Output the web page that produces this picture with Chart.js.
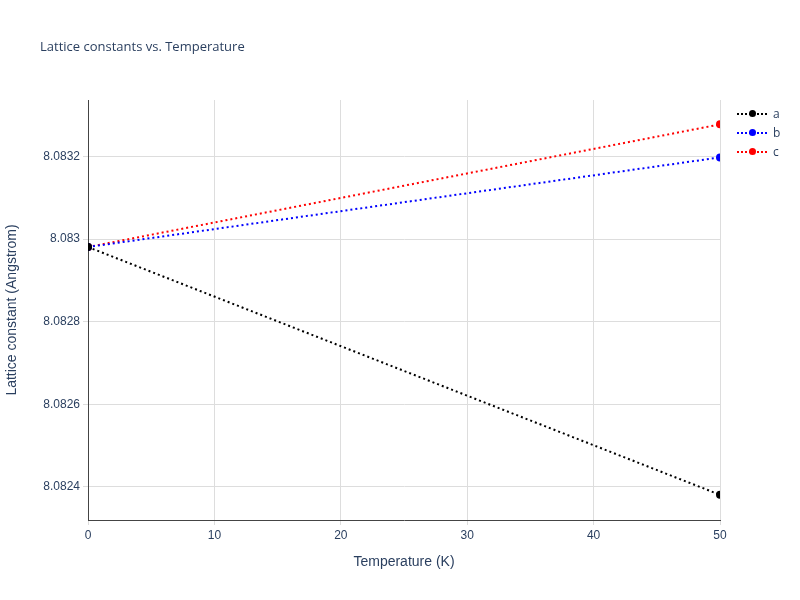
<!DOCTYPE html>
<html>
<head>
<meta charset="utf-8">
<script src="https://cdn.jsdelivr.net/npm/chart.js@4"></script>
<style>
  body { margin: 0; background: #fff; font-family: "Open Sans", sans-serif; }
  #wrap { position: relative; width: 800px; height: 600px; }
  #title { position: absolute; left: 40px; top: 37px; font-size: 13px; color: #2a3f5f; }
  #legend { position: absolute; left: 737px; top: 104px; font-size: 12px; color: #2a3f5f; }
  .item { height: 19px; display: flex; align-items: center; }
  .sym { position: relative; width: 30px; height: 10px; margin-right: 6px; }
  .sym .ln { position: absolute; top: 4px; left: 0; width: 30px; border-top: 2px dotted; }
  .sym .dot { position: absolute; top: 1px; left: 12px; width: 7px; height: 7px; border-radius: 50%; }
</style>
</head>
<body>
<div id="wrap">
  <canvas id="chart" width="800" height="600"></canvas>
  <div id="title">Lattice constants vs. Temperature</div>
  <div id="legend"></div>
</div>
<script>
const temps = [0, 50];
const seriesNames = ["a", "b", "c"];
const seriesColors = ["#000000", "#0000ff", "#ff0000"];
const aValues = [8.082981, 8.082381];
const bValues = [8.082981, 8.083198];
const cValues = [8.082981, 8.083278];
const yTicks = [8.0824, 8.0826, 8.0828, 8.083, 8.0832];
const xTicks = [0, 10, 20, 30, 40, 50];

const allValues = [aValues, bValues, cValues];

// 凡例をHTMLで作る
const legend = document.getElementById("legend");
seriesNames.forEach((name, i) => {
  const row = document.createElement("div");
  row.className = "item";
  row.innerHTML = `<span class="sym"><span class="ln" style="border-color:${seriesColors[i]}"></span><span class="dot" style="background:${seriesColors[i]}"></span></span>${name}`;
  legend.appendChild(row);
});

const datasets = seriesNames.map((name, i) => ({
  label: name,
  data: temps.map((t, j) => ({ x: t, y: allValues[i][j] })),
  borderColor: seriesColors[i],
  backgroundColor: seriesColors[i],
  borderWidth: 2,
  borderDash: [2, 3],
  pointRadius: 3,
  pointHoverRadius: 3,
}));

new Chart(document.getElementById("chart").getContext("2d"), {
  type: "line",
  data: { datasets: datasets },
  options: {
    responsive: false,
    animation: false,
    layout: { padding: { left: 0, right: 80, top: 100, bottom: 25 } },
    plugins: { legend: { display: false }, tooltip: { enabled: false } },
    scales: {
      x: {
        type: "linear",
        min: 0,
        max: 50,
        afterBuildTicks: (s) => { s.ticks = xTicks.map(v => ({ value: v })); },
        afterFit: (s) => { s.height = 55; },
        grid: { color: "#dddddd", drawTicks: true, tickLength: 5 },
        border: { color: "#444444" },
        ticks: { color: "#2a3f5f", font: { size: 12 } },
        title: { display: true, text: "Temperature (K)", color: "#2a3f5f", font: { size: 14 }, padding: { top: 8 } },
      },
      y: {
        type: "linear",
        min: 8.08232,
        max: 8.083337,
        afterBuildTicks: (s) => { s.ticks = yTicks.map(v => ({ value: v })); },
        afterFit: (s) => { s.width = 88; },
        grid: { color: "#dddddd", tickLength: 5 },
        border: { color: "#444444" },
        ticks: {
          color: "#2a3f5f",
          font: { size: 12 },
          callback: (v) => String(parseFloat(v.toFixed(4))),
        },
        title: { display: true, text: "Lattice constant (Angstrom)", color: "#2a3f5f", font: { size: 14 } },
      },
    },
  },
});
</script>
</body>
</html>
